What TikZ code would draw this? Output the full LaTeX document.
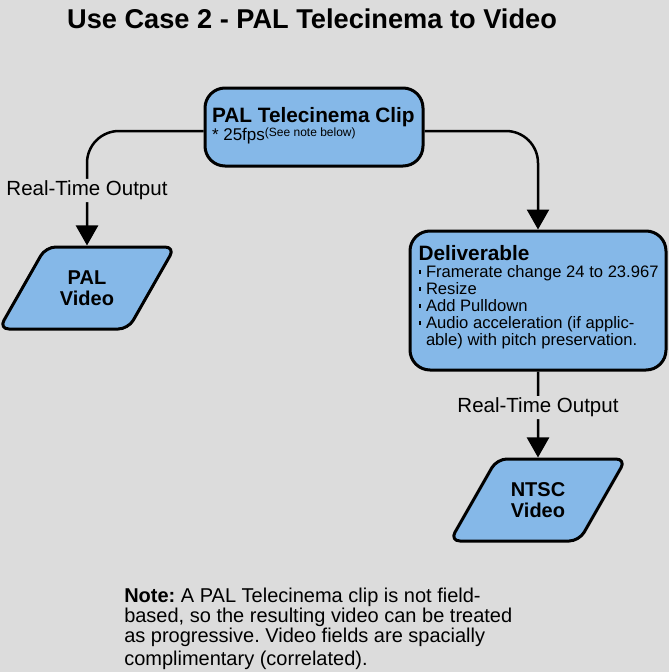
\documentclass[tikz,border=0pt]{standalone}
\usepackage{fontspec}
\setmainfont{Liberation Sans}
\usetikzlibrary{positioning,shapes.geometric,arrows.meta}
\definecolor{pagegrey}{RGB}{220,220,220}
\definecolor{boxblue}{RGB}{133,184,232}
\newcommand{\fsz}[1]{\fontsize{#1}{#1}\selectfont}
\newcommand{\itm}{\rule[3.5pt]{2.5pt}{3.5pt}\hspace{5pt}}
\frenchspacing
\begin{document}
\begin{tikzpicture}[
  x=1pt, y=-1pt,
  every path/.append style={line width=2.5pt},
  procbox/.style={draw, fill=boxblue, line width=3pt, rounded corners=20pt, inner sep=0pt},
  iobox/.style={draw, fill=boxblue, line width=3pt, rounded corners=10pt,
    trapezium, trapezium left angle=60, trapezium right angle=120,
    trapezium stretches body, minimum width=176pt, minimum height=82pt,
    inner xsep=0pt, inner ysep=23pt, align=center,
    font=\bfseries\fontsize{20}{21}\selectfont},
  flow/.style={-{Triangle[width=22pt,length=20pt]}, rounded corners=32pt},
  tag/.style={fill=pagegrey, inner sep=2pt, font=\fsz{20.5}}
  ]
  \fill[pagegrey] (0,0) rectangle (669,672);
  \useasboundingbox (0,0) rectangle (669,672);

  \node[font=\bfseries\fsz{27.2}] (title) at (312,19) {Use Case 2 - PAL Telecinema to Video};

  \node[procbox, minimum width=218pt, minimum height=78pt] (clip) at (314,127)
    {\parbox[c][40pt][t]{204pt}{\fsz{20.8}\bfseries PAL Telecinema Clip\par
     \fontsize{17}{18}\selectfont\mdseries * 25fps\raisebox{4pt}{\fsz{12}(See note below)}}};

  \node[iobox] (palvid) at (87,288) {PAL\\Video};

  \node[procbox, minimum width=256pt, minimum height=139pt] (deliv) at (538,300.5)
    {\parbox[c][111pt][t]{239pt}{\raggedright\fsz{20.8}\bfseries Deliverable\par
     \fontsize{16.6}{17}\selectfont\mdseries
     \mbox{\itm Framerate change 24 to 23.967}\par
     \mbox{\itm Resize}\par
     \mbox{\itm Add Pulldown}\par
     \mbox{\itm Audio acceleration (if applic-}\par
     \mbox{\hphantom{\itm}able) with pitch preservation.}}};

  \node[iobox] (ntsc) at (538,500) {NTSC\\Video};

  % connectors
  \draw[flow] ([yshift=-4pt]clip.west) -| (palvid.north) node[tag, pos=0.76] {Real-Time Output};
  \draw[flow] ([yshift=-4pt]clip.east) -| (deliv.north);
  \draw[flow] (deliv.south) -- (ntsc.north) node[tag, pos=0.42] {Real-Time Output};

  \node[anchor=north west, align=left, inner sep=0pt, font=\fsz{20}] (note) at (123,587)
    {\textbf{Note:} A PAL Telecinema clip is not field-\\
     based, so the resulting video can be treated\\
     as progressive. Video fields are spacially\\[3pt]
     complimentary (correlated).};
\end{tikzpicture}
\end{document}
